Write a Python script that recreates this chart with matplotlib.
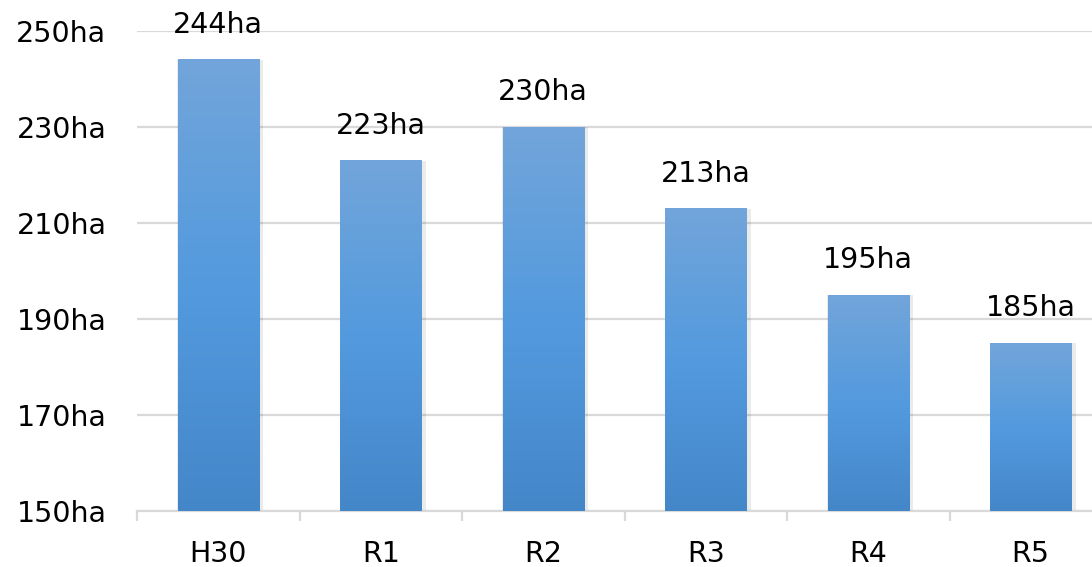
import matplotlib.pyplot as plt
import numpy as np
from matplotlib.colors import LinearSegmentedColormap

plt.rcParams["font.family"] = ["DejaVu Sans"]

categories = ["H30", "R1", "R2", "R3", "R4", "R5"]
areas = [244, 223, 230, 213, 195, 185]
y_ticks = [150, 170, 190, 210, 230, 250]

BASE = 150
WIDTH = 0.5
FS = 20.5
grad = LinearSegmentedColormap.from_list("bar", ["#4487c9", "#539ade", "#72a5da"])

fig = plt.figure(figsize=(10.92, 5.67), dpi=100)
# plot area runs a little past the right edge of the figure
ax = fig.add_axes([137 / 1092, 56 / 567, 975 / 1092, 480 / 567])

x = np.arange(len(categories))
ramp = np.linspace(0, 1, 256).reshape(-1, 1)
for xi, v in zip(x, areas):
    # soft drop shadow behind each bar
    ax.bar(xi + 0.012, v - BASE, bottom=BASE, width=WIDTH + 0.03,
           color="#000000", alpha=0.08, zorder=2, linewidth=0)
    ax.imshow(ramp, cmap=grad, origin="lower", aspect="auto",
              extent=[xi - WIDTH / 2, xi + WIDTH / 2, BASE, v], zorder=3)
    ax.annotate(f"{v}ha", (xi, v), textcoords="offset points", xytext=(0, 15),
                ha="center", va="bottom", fontsize=FS, color="#000000")

ax.set_xlim(-0.5, len(categories) - 0.5)
ax.set_ylim(BASE, 250)
ax.set_yticks(y_ticks)
ax.set_yticklabels([f"{t}ha" for t in y_ticks])
ax.set_xticks(x)
ax.set_xticklabels(categories)
ax.set_xticks(np.arange(len(categories) + 1) - 0.5, minor=True)

ax.grid(axis="y", color="#d9d9d9", linewidth=1.6, zorder=0)
ax.set_axisbelow(True)
for side in ["top", "right", "left"]:
    ax.spines[side].set_visible(False)
ax.spines["bottom"].set_color("#d9d9d9")
ax.spines["bottom"].set_linewidth(1.6)

ax.tick_params(axis="y", length=0, pad=22, labelsize=FS)
ax.tick_params(axis="x", which="major", length=0, pad=21, labelsize=FS)
ax.tick_params(axis="x", which="minor", length=7, width=1.6, color="#d9d9d9")

fig.savefig("out.png", dpi=100)
